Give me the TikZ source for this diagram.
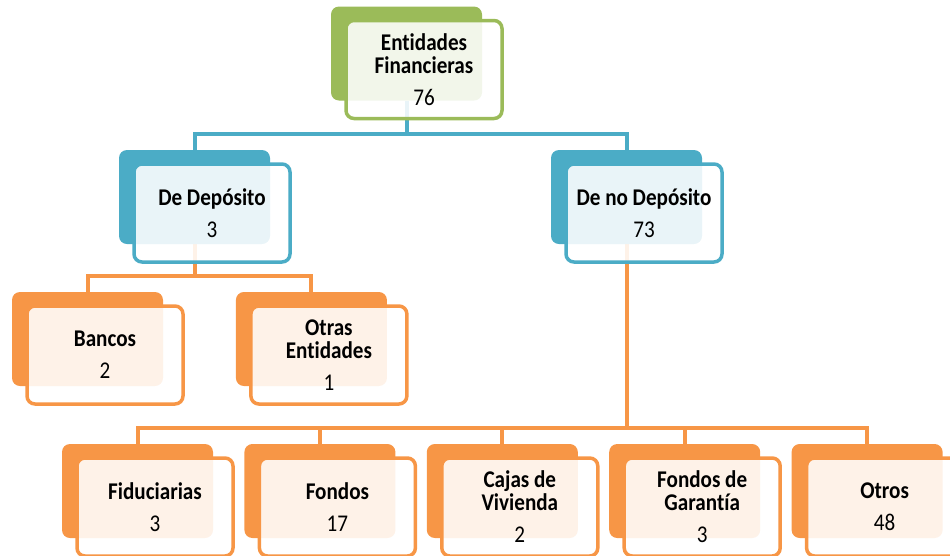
\documentclass[tikz,border=0pt]{standalone}
\usepackage{fontspec}
\setmainfont{Carlito}[FakeStretch=0.88,Ligatures=NoCommon]
\usetikzlibrary{positioning,backgrounds}
\definecolor{Green}{HTML}{9BBB59}
\definecolor{Teal}{HTML}{4BACC6}
\definecolor{Orange}{HTML}{F79646}
\tikzset{back/.style={rounded corners=8pt,fill=#1,minimum width=151pt,minimum height=94pt,inner sep=0pt},front/.style={rounded corners=8pt,draw=#1,line width=3.5pt,fill=white,fill opacity=.88,text opacity=1,minimum width=156pt,minimum height=98pt,inner sep=0pt,align=center,font=\fontsize{24}{23}\selectfont\bfseries},link/.style={draw=#1,line width=4pt}}

\begin{document}
\begin{tikzpicture}[x=1pt,y=-1pt,node distance=31pt]
      \useasboundingbox (0,0) rectangle (950,555);
      % back plates
      \node[back=Green](ent) at (406.5,53.5){};
      \node[back=Teal](dep) at (194.5,197){};
      \node[back=Teal](nodep) at (626.5,197){};
      \node[back=Orange](ban) at (87.5,339){};
      \node[back=Orange,right=72.5pt of ban](otr){};
      \node[back=Orange](fid) at (137.5,491){};
      \node[back=Orange,right=of fid](fon){};
      \node[back=Orange,right=of fon](caj){};
      \node[back=Orange,right=of caj](gar){};
      \node[back=Orange,right=of gar](otros){};
      % front cards
      \node[front=Green](entf) at ([xshift=17.5pt,yshift=-16pt]ent.center){Entidades\\Financieras\\[9pt]{\mdseries 76}};
      \node[front=Teal](depf) at ([xshift=17.5pt,yshift=-16pt]dep.center){De Depósito\\[9pt]{\mdseries 3}};
      \node[front=Teal](nodepf) at ([xshift=17.5pt,yshift=-16pt]nodep.center){De no Depósito\\[9pt]{\mdseries 73}};
      \node[front=Orange](banf) at ([xshift=17.5pt,yshift=-16pt]ban.center){Bancos\\[9pt]{\mdseries 2}};
      \node[front=Orange](otrf) at ([xshift=17.5pt,yshift=-16pt]otr.center){Otras\\Entidades\\[9pt]{\mdseries 1}};
      \node[front=Orange](fidf) at ([xshift=17.5pt,yshift=-16pt]fid.center){Fiduciarias\\[9pt]{\mdseries 3}};
      \node[front=Orange](fonf) at ([xshift=17.5pt,yshift=-16pt]fon.center){Fondos\\[9pt]{\mdseries 17}};
      \node[front=Orange](cajf) at ([xshift=17.5pt,yshift=-16pt]caj.center){Cajas de\\Vivienda\\[9pt]{\mdseries 2}};
      \node[front=Orange](garf) at ([xshift=17.5pt,yshift=-16pt]gar.center){Fondos de\\Garantía\\[9pt]{\mdseries 3}};
      \node[front=Orange](otrosf) at ([xshift=17.5pt,yshift=-16pt]otros.center){Otros\\[9pt]{\mdseries 48}};
      % connectors
      \begin{scope}[on background layer]
        \draw[link=Teal](ent.south)|-([yshift=16pt]dep.north)--(dep.north);
        \draw[link=Teal](ent.south)|-([yshift=16pt]nodep.north)--(nodep.north);
        \draw[link=Orange](dep.south)|-([yshift=16pt]ban.north)--(ban.north);
        \draw[link=Orange](dep.south)|-([yshift=16pt]otr.north)--(otr.north);
        \foreach \k in {fid,fon,caj,gar,otros}
          \draw[link=Orange](nodep.south)|-([yshift=16pt]\k.north)--(\k.north);
      \end{scope}
    \end{tikzpicture}
\end{document}
